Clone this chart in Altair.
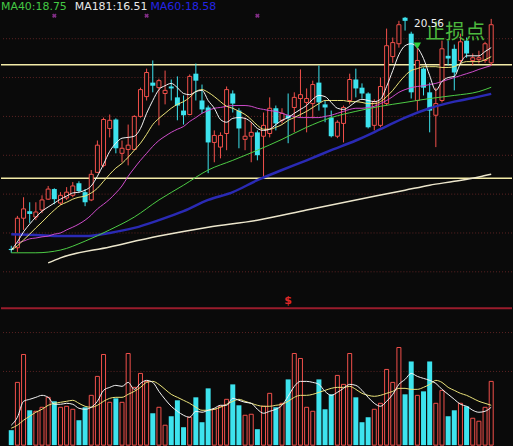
import altair as alt
import pandas as pd

# ---------------- daily candles ----------------
idx = list(range(79))
open_ = [14.59, 14.62, 15.38, 15.56, 15.41, 15.59, 15.87, 16.13, 15.77, 15.90,
         15.97, 16.28, 16.05, 15.85, 16.56, 16.74, 17.69, 17.92, 17.05, 17.15,
         17.15, 18.00, 18.51, 18.87, 18.74, 18.59, 18.77, 18.49, 18.15, 18.05,
         19.10, 18.41, 18.23, 17.33, 17.21, 17.56, 18.59, 18.15, 17.41, 17.49,
         17.59, 17.49, 17.56, 18.21, 17.90, 18.03, 18.23, 18.46, 18.36, 18.33,
         18.87, 18.31, 17.97, 17.49, 17.82, 18.41, 18.95, 18.74, 18.59, 17.77,
         17.77, 18.33, 19.54, 19.87, 20.54, 20.13, 18.41, 19.23, 18.62, 18.03,
         18.41, 19.56, 19.74, 19.44, 19.95, 19.44, 19.46, 19.44, 19.38]
high = [14.67, 15.44, 15.92, 15.79, 15.79, 15.97, 16.21, 16.15, 16.05, 16.18,
        16.31, 16.33, 16.13, 16.62, 17.38, 17.97, 18.05, 17.95, 17.38, 17.79,
        18.03, 18.74, 19.23, 19.44, 18.97, 19.18, 18.95, 19.03, 18.54, 19.08,
        19.36, 18.82, 18.28, 17.64, 17.59, 18.77, 18.67, 18.21, 17.97, 17.85,
        17.64, 18.10, 18.49, 18.28, 18.21, 18.59, 18.62, 19.21, 18.72, 18.92,
        19.31, 18.41, 18.15, 17.90, 18.28, 19.10, 19.23, 18.85, 18.62, 18.44,
        19.00, 20.26, 20.03, 20.46, 20.56, 20.18, 19.87, 19.26, 18.87, 18.74,
        19.95, 19.95, 19.85, 20.13, 20.03, 19.62, 19.69, 19.92, 20.51]
low = [14.49, 14.51, 15.08, 15.26, 15.33, 15.51, 15.85, 15.74, 15.72, 15.85,
       15.92, 16.03, 15.69, 15.82, 16.54, 16.69, 17.46, 17.05, 16.82, 16.74,
       17.13, 17.97, 18.41, 18.62, 17.77, 18.31, 18.41, 17.90, 17.79, 18.03,
       18.41, 18.08, 16.54, 16.82, 16.92, 17.13, 18.10, 17.18, 17.13, 16.82,
       16.87, 16.41, 17.46, 17.64, 17.82, 17.31, 17.59, 17.97, 17.59, 17.95,
       18.15, 17.85, 17.46, 17.44, 17.33, 18.31, 18.49, 18.46, 17.69, 17.64,
       17.72, 18.28, 19.38, 19.77, 20.21, 18.46, 18.15, 18.54, 17.59, 17.21,
       18.36, 19.31, 18.67, 19.36, 19.51, 19.31, 19.36, 19.38, 19.31]
close = [14.56, 15.38, 15.62, 15.49, 15.54, 15.85, 16.13, 15.87, 15.97, 16.05,
         16.21, 16.08, 15.79, 16.51, 17.26, 17.92, 17.90, 17.18, 17.18, 17.26,
         18.00, 18.69, 19.13, 18.79, 18.92, 18.67, 18.72, 18.28, 18.03, 19.03,
         18.92, 18.18, 17.33, 17.51, 17.51, 18.69, 18.33, 17.69, 17.49, 17.59,
         17.00, 17.77, 18.21, 17.82, 18.08, 17.95, 18.49, 18.56, 18.46, 18.82,
         18.36, 18.23, 17.49, 17.85, 18.23, 18.95, 18.72, 18.59, 17.72, 18.38,
         18.77, 19.82, 19.90, 20.36, 20.46, 18.62, 19.44, 18.74, 18.15, 18.33,
         19.74, 19.49, 19.13, 19.92, 19.62, 19.51, 19.51, 19.87, 20.36]
# volume, thousand lots
volume = [15, 63, 91, 35, 34, 38, 48, 44, 38, 39, 36, 25, 38, 50, 69, 91, 43, 47, 43, 92,
          58, 72, 64, 32, 38, 20, 29, 45, 18, 28, 48, 23, 57, 36, 39, 46, 61, 40, 30, 31,
          16, 39, 52, 38, 42, 66, 92, 87, 38, 34, 66, 36, 51, 70, 61, 92, 48, 23, 28, 36,
          42, 76, 63, 98, 51, 84, 50, 54, 84, 42, 55, 29, 35, 42, 39, 27, 24, 38, 64]

# ---------------- moving averages on price ----------------
ma_short = [14.56, 14.77, 15.03, 15.23, 15.41, 15.56, 15.67, 15.77, 15.87, 15.95,
            16.03, 16.05, 16.10, 16.21, 16.46, 16.77, 17.10, 17.31, 17.44, 17.46,
            17.49, 17.69, 18.08, 18.41, 18.69, 18.79, 18.85, 18.74, 18.59, 18.56,
            18.64, 18.67, 18.41, 18.21, 17.92, 17.85, 17.95, 17.97, 17.95, 17.85,
            17.69, 17.64, 17.67, 17.79, 17.90, 17.97, 18.08, 18.18, 18.28, 18.44,
            18.54, 18.51, 18.36, 18.21, 18.18, 18.26, 18.38, 18.44, 18.41, 18.38,
            18.44, 18.77, 19.18, 19.59, 19.82, 19.87, 19.77, 19.49, 19.05, 18.67,
            18.90, 19.00, 19.03, 19.36, 19.56, 19.56, 19.56, 19.67, 19.77]
ma_mid = [14.56, 14.67, 14.82, 14.97, 15.13, 15.28, 15.44, 15.59, 15.72, 15.79,
          15.87, 15.92, 15.95, 16.03, 16.15, 16.33, 16.51, 16.67, 16.79, 16.95,
          17.13, 17.31, 17.54, 17.79, 17.95, 18.08, 18.21, 18.31, 18.38, 18.49,
          18.64, 18.69, 18.62, 18.51, 18.38, 18.26, 18.21, 18.13, 18.05, 17.92,
          17.77, 17.67, 17.67, 17.72, 17.79, 17.90, 17.97, 18.05, 18.13, 18.23,
          18.33, 18.41, 18.41, 18.41, 18.41, 18.38, 18.38, 18.36, 18.33, 18.33,
          18.38, 18.51, 18.67, 18.87, 19.05, 19.18, 19.23, 19.28, 19.28, 19.28,
          19.26, 19.26, 19.28, 19.36, 19.41, 19.41, 19.41, 19.46, 19.54]
ma20_idx = list(range(1, 79))
ma20 = [14.74, 14.79, 14.85, 14.87, 14.90, 14.92, 14.97, 15.00, 15.08,
        15.15, 15.23, 15.33, 15.46, 15.62, 15.74, 15.87, 16.03, 16.21, 16.46,
        16.67, 16.87, 17.05, 17.23, 17.38, 17.49, 17.59, 17.67, 17.74, 17.87,
        17.97, 18.08, 18.15, 18.21, 18.23, 18.26, 18.28, 18.28, 18.28, 18.26,
        18.21, 18.18, 18.15, 18.13, 18.08, 18.03, 18.00, 17.97, 17.97, 17.97,
        17.97, 18.00, 18.03, 18.08, 18.13, 18.18, 18.21, 18.21, 18.23, 18.26,
        18.33, 18.41, 18.51, 18.62, 18.69, 18.74, 18.77, 18.79, 18.82, 18.85,
        18.90, 18.95, 19.00, 19.05, 19.10, 19.15, 19.21, 19.26, 19.31]
long_idx = [0, 4, 8, 12, 16, 20, 24, 28, 32, 36, 40, 44, 48, 52, 56, 60, 64, 68, 72, 76, 78]
ma40 = [14.49, 14.49, 14.56, 14.79, 15.08, 15.41, 15.85, 16.23, 16.62, 16.87, 17.13,
        17.41, 17.72, 17.97, 18.13, 18.26, 18.36, 18.46, 18.54, 18.64, 18.75]
ma60 = [14.97, 14.95, 14.92, 14.92, 15.00, 15.13, 15.33, 15.56, 15.85, 16.05, 16.36,
        16.62, 16.87, 17.13, 17.38, 17.67, 17.97, 18.21, 18.38, 18.51, 18.58]
ma181_idx = [6, 8, 16, 24, 32, 40, 48, 56, 64, 68, 72, 76, 78]
ma181 = [14.23, 14.36, 14.64, 14.92, 15.15, 15.33, 15.59, 15.85, 16.10, 16.23, 16.33, 16.44, 16.51]

# ---------------- volume averages ----------------
vol_ma_short = [20, 28, 44, 46, 48, 50, 48, 41, 41, 42, 41, 37, 36, 38, 44, 55, 58, 60, 59, 63,
                56, 62, 65, 63, 54, 46, 39, 34, 30, 28, 34, 33, 35, 37, 40, 40, 47, 45, 43, 42,
                36, 32, 34, 36, 40, 49, 59, 64, 64, 63, 61, 54, 50, 53, 57, 61, 60, 55, 48, 42,
                39, 44, 51, 61, 66, 72, 69, 67, 65, 62, 56, 51, 46, 41, 39, 35, 33, 34, 38]
vol_ma_long = [17, 20, 25, 29, 33, 36, 40, 42, 43, 44, 45, 42, 39, 38, 40, 44, 47, 48, 48, 51,
               54, 58, 63, 64, 61, 56, 51, 48, 45, 42, 38, 35, 35, 36, 38, 41, 44, 46, 44, 42,
               40, 39, 39, 40, 41, 44, 48, 50, 50, 51, 53, 55, 57, 58, 58, 59, 56, 52, 50, 49,
               50, 52, 54, 57, 57, 56, 56, 58, 61, 65, 63, 58, 55, 52, 50, 47, 44, 42, 40]

# ---------------- reference levels and signals ----------------
price_grid = [14, 15, 16, 17, 18, 19, 20]
channel_levels = [19.33, 16.41]
divider_level = 13.06
signal_idx = [7, 22, 40]
signal_price = 20.59
stop_idx = 66
stop_price = 19.82
dollar_idx = 45
dollar_price = 13.24
vol_grid = [74, 113]

BG = "#0a0a0a"
RED = "#f2504b"
CYAN = "#3de3ee"

df = pd.DataFrame({"i": idx, "open": open_, "high": high, "low": low,
                   "close": close, "vol": volume})
hi_pos = int(df["high"].idxmax())

xs = alt.Scale(domain=[-0.857, 80.57], nice=False, zero=False)
ys = alt.Scale(domain=[13.026, 20.974], nice=False, zero=False)
vs = alt.Scale(domain=[0, 136], nice=False, zero=False)
X = alt.X("i:Q", scale=xs, axis=None)

base = alt.Chart(df)
up = "datum.close >= datum.open"
down = "datum.close < datum.open"


def ma_line(ix, vals, color, width=1.0):
    return alt.Chart(pd.DataFrame({"i": ix, "v": vals})).mark_line(
        color=color, strokeWidth=width, interpolate="monotone"
    ).encode(x=X, y=alt.Y("v:Q", scale=ys, axis=None))


grid = alt.Chart(pd.DataFrame({"p": price_grid})).mark_rule(
    color="#5e2424", strokeDash=[1, 2], strokeWidth=1
).encode(y=alt.Y("p:Q", scale=ys, axis=None))
channel = alt.Chart(pd.DataFrame({"p": channel_levels})).mark_rule(
    color="#f3eba8", strokeWidth=1.5
).encode(y=alt.Y("p:Q", scale=ys, axis=None))
divider = alt.Chart(pd.DataFrame({"p": [divider_level]})).mark_rule(
    color="#9a1c2c", strokeWidth=2
).encode(y=alt.Y("p:Q", scale=ys, axis=None))
dollar = alt.Chart(pd.DataFrame({"i": [dollar_idx], "p": [dollar_price]})).mark_text(
    text="$", color="#e02828", fontSize=11, fontWeight="bold", font="DejaVu Sans"
).encode(x=X, y=alt.Y("p:Q", scale=ys, axis=None))

wick_up = base.transform_filter(up).mark_rule(color=RED, strokeWidth=1).encode(
    x=X, y=alt.Y("low:Q", scale=ys, axis=None), y2="high:Q")
wick_dn = base.transform_filter(down).mark_rule(color=CYAN, strokeWidth=1).encode(
    x=X, y=alt.Y("low:Q", scale=ys, axis=None), y2="high:Q")
body_up = base.transform_filter(up).mark_bar(
    size=4, fill=BG, stroke=RED, strokeWidth=1
).encode(x=X, y=alt.Y("open:Q", scale=ys, axis=None), y2="close:Q")
body_dn = base.transform_filter(down).mark_bar(size=5, color=CYAN).encode(
    x=X, y=alt.Y("open:Q", scale=ys, axis=None), y2="close:Q")

signals = alt.Chart(pd.DataFrame({"i": signal_idx, "p": [signal_price] * len(signal_idx)})).mark_point(
    shape="cross", angle=45, filled=True, size=22, color="#b23cb8"
).encode(x=X, y=alt.Y("p:Q", scale=ys, axis=None))

stop_df = pd.DataFrame({"i": [stop_idx], "p": [stop_price]})
stop_arrow = alt.Chart(stop_df).mark_point(
    shape="triangle-down", filled=True, size=55, color="#2fcf3a", opacity=1
).encode(x=X, y=alt.Y("p:Q", scale=ys, axis=None))
stop_text = alt.Chart(stop_df).mark_text(
    text="止损点", color="#4cb83e", fontSize=20, font="Noto Sans CJK SC",
    align="left", baseline="alphabetic", dx=8, dy=-7
).encode(x=X, y=alt.Y("p:Q", scale=ys, axis=None))

peak_df = df.loc[[hi_pos], ["i", "high"]]
peak_text = alt.Chart(peak_df).mark_text(
    text=f"{df['high'].max():.2f}", color="#f0f0f0", fontSize=10.5, font="DejaVu Sans",
    align="left", baseline="alphabetic", dx=9, dy=10
).encode(x=X, y=alt.Y("high:Q", scale=ys, axis=None))

one = pd.DataFrame({"k": [0]})


def header(txt, x, color):
    return alt.Chart(one).mark_text(
        text=txt, color=color, fontSize=11, font="DejaVu Sans",
        align="left", baseline="alphabetic"
    ).encode(x=alt.value(x), y=alt.value(9))


headers = (header(f"MA40:{ma40[-1]:.2f}", 0, "#44c844")
           + header(f"MA181:{ma181[-1]:.2f}", 74, "#e8e8e8")
           + header(f"MA60:{ma60[-1]:.2f}", 150, "#2424e6"))

price = alt.layer(
    grid, channel, divider, dollar,
    wick_up, wick_dn, body_up, body_dn,
    ma_line(ma181_idx, ma181, "#ece6cc", 1.5),
    ma_line(long_idx, ma60, "#2a2ab4", 2.5),
    ma_line(long_idx, ma40, "#4ccc44", 1.0),
    ma_line(ma20_idx, ma20, "#d04ccc", 1.0),
    ma_line(idx, ma_mid, "#ece47a", 1.0),
    ma_line(idx, ma_short, "#f4f4f4", 1.0),
    signals, stop_arrow, stop_text, peak_text, headers,
).properties(width=513, height=310)

# ---------------- volume panel ----------------
VY = alt.Y("vol:Q", scale=vs, axis=None)
vgrid = alt.Chart(pd.DataFrame({"v": vol_grid})).mark_rule(
    color="#5e2424", strokeDash=[1, 2], strokeWidth=1
).encode(y=alt.Y("v:Q", scale=vs, axis=None))
vol_up = base.transform_filter(up).mark_bar(
    size=4, fill=BG, stroke=RED, strokeWidth=1
).encode(x=X, y=VY, y2=alt.datum(0))
vol_dn = base.transform_filter(down).mark_bar(size=5, color=CYAN).encode(
    x=X, y=VY, y2=alt.datum(0))


def vol_line(vals, color):
    return alt.Chart(pd.DataFrame({"i": idx, "v": vals})).mark_line(
        color=color, strokeWidth=1, interpolate="monotone"
    ).encode(x=X, y=alt.Y("v:Q", scale=vs, axis=None))


vol = alt.layer(
    vgrid, vol_up, vol_dn,
    vol_line(vol_ma_long, "#ece47a"),
    vol_line(vol_ma_short, "#f4f4f4"),
).properties(width=513, height=136)

chart = alt.vconcat(price, vol, spacing=0).properties(
    background=BG, padding=0
).configure_view(stroke=None)

chart.save("out.html", embed_options={"renderer": "svg", "actions": False})
